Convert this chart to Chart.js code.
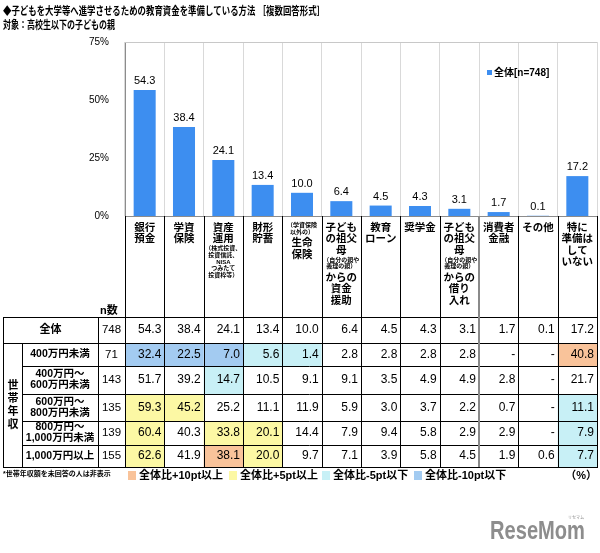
<!DOCTYPE html>
<html lang="ja">
<head>
<meta charset="utf-8">
<script src="https://cdn.jsdelivr.net/npm/chart.js@4.4.1/dist/chart.umd.min.js"></script>
<style>
  html, body { margin: 0; padding: 0; background: #fff; }
  #wrap { position: relative; width: 600px; height: 553px; }
</style>
</head>
<body>
<div id="wrap"><canvas id="grafico"></canvas></div>
<script>
// カテゴリ（選択肢）
const categories = ['銀行預金', '学資保険', '資産運用', '財形貯蓄', '生命保険', '子どもの祖父母からの資金援助',
  '教育ローン', '奨学金', '子どもの祖父母からの借り入れ', '消費者金融', 'その他', '特に準備はしていない'];

// 表の見出し（L = 大きい文字, S = 小さい注記）
const headers = [
  [['銀行', 'L'], ['預金', 'L']],
  [['学資', 'L'], ['保険', 'L']],
  [['資産', 'L'], ['運用', 'L'], ['（株式投資、', 'S'], ['投資信託、', 'S'], ['NISA', 'S'], ['つみたて', 'S'], ['投資枠等）', 'S']],
  [['財形', 'L'], ['貯蓄', 'L']],
  [['（学資保険', 'S'], ['以外の）', 'S'], ['生命', 'L'], ['保険', 'L']],
  [['子ども', 'L'], ['の祖父', 'L'], ['母', 'L'], ['（自分の親や', 'S'], ['義理の親）', 'S'], ['からの', 'L'], ['資金', 'L'], ['援助', 'L']],
  [['教育', 'L'], ['ローン', 'L']],
  [['奨学金', 'L']],
  [['子ども', 'L'], ['の祖父', 'L'], ['母', 'L'], ['（自分の親や', 'S'], ['義理の親）', 'S'], ['からの', 'L'], ['借り', 'L'], ['入れ', 'L']],
  [['消費者', 'L'], ['金融', 'L']],
  [['その他', 'L']],
  [['特に', 'L'], ['準備は', 'L'], ['して', 'L'], ['いない', 'L']]
];

// 全体
const totalLabel = '全体[n=748]';
const totalN = 748;
const totalValues = [54.3, 38.4, 24.1, 13.4, 10.0, 6.4, 4.5, 4.3, 3.1, 1.7, 0.1, 17.2];

// 世帯年収別（null = 「-」）
const incomeLabels = [['400万円未満'], ['400万円～', '600万円未満'], ['600万円～', '800万円未満'], ['800万円～', '1,000万円未満'], ['1,000万円以上']];
const incomeN = [71, 143, 135, 139, 155];
const under400 = [32.4, 22.5, 7.0, 5.6, 1.4, 2.8, 2.8, 2.8, 2.8, null, null, 40.8];
const from400to600 = [51.7, 39.2, 14.7, 10.5, 9.1, 9.1, 3.5, 4.9, 4.9, 2.8, null, 21.7];
const from600to800 = [59.3, 45.2, 25.2, 11.1, 11.9, 5.9, 3.0, 3.7, 2.2, 0.7, null, 11.1];
const from800to1000 = [60.4, 40.3, 33.8, 20.1, 14.4, 7.9, 9.4, 5.8, 2.9, 2.9, null, 7.9];
const over1000 = [62.6, 41.9, 38.1, 20.0, 9.7, 7.1, 3.9, 5.8, 4.5, 1.9, 0.6, 7.7];
const incomeRows = [under400, from400to600, from600to800, from800to1000, over1000];

// 軸の目盛り
const yTicks = [0, 25, 50, 75];

const JP = '"Liberation Sans", "Noto Sans CJK JP", sans-serif';
const NUM = '"Liberation Sans", Arial, sans-serif';
const BAR = '#3d8ef0';
const C_P10 = '#f9c39a', C_P5 = '#fcf8a4', C_M5 = '#c8f0f6', C_M10 = '#a3cbf1';

function cellColor(v, base) {
  if (v === null) return null;
  const d = Math.round((v - base) * 10) / 10;
  if (d >= 10) return C_P10;
  if (d >= 5) return C_P5;
  if (d <= -10) return C_M10;
  if (d <= -5) return C_M5;
  return null;
}

function fmt(v) { return v === null ? '-' : v.toFixed(1); }

function hLine(ctx, x1, x2, y) {
  ctx.beginPath(); ctx.moveTo(x1, Math.round(y) + 0.5); ctx.lineTo(x2, Math.round(y) + 0.5); ctx.stroke();
}
function vLine(ctx, x, y1, y2) {
  ctx.beginPath(); ctx.moveTo(Math.round(x) + 0.5, y1); ctx.lineTo(Math.round(x) + 0.5, y2); ctx.stroke();
}

// グラフ以外（タイトル・数値・表・凡例）を描く
const tablePlugin = {
  id: 'tablePlugin',
  afterDraw(chart) {
    const ctx = chart.ctx;
    const xs = chart.scales.x;
    const area = chart.chartArea;
    const colW = xs.width / categories.length;
    const colLeft = i => xs.getPixelForValue(i) - colW / 2;
    ctx.save();

    // タイトル
    ctx.fillStyle = '#000';
    ctx.textBaseline = 'middle';
    ctx.textAlign = 'left';
    ctx.font = 'bold 11px ' + JP;
    ctx.fillText('◆子どもを大学等へ進学させるための教育資金を準備している方法 ［複数回答形式］', 3, 12, 322);
    ctx.fillText('対象：高校生以下の子どもの親', 3, 26, 112);

    // グラフ上枠
    ctx.strokeStyle = '#c8c8c8';
    ctx.lineWidth = 1;
    hLine(ctx, area.left, area.right, area.top);

    // 棒の数値
    const meta = chart.getDatasetMeta(0);
    ctx.font = '11px ' + NUM;
    ctx.textAlign = 'center';
    ctx.textBaseline = 'alphabetic';
    meta.data.forEach((bar, i) => {
      ctx.fillText(totalValues[i].toFixed(1), bar.x, bar.y - 6);
    });

    // 凡例（グラフ内）
    ctx.fillStyle = BAR;
    ctx.fillRect(487, 70, 5, 5);
    ctx.fillStyle = '#000';
    ctx.font = 'bold 10px ' + JP;
    ctx.textAlign = 'left';
    ctx.textBaseline = 'middle';
    ctx.fillText(totalLabel, 494, 73);

    // 表
    const rowsY = [317, 343, 366, 394, 421, 445, 467];
    const xL = 3, xG = 22, xN = 98;
    const top = area.bottom, bottom = rowsY[rowsY.length - 1];
    const nX = (xN + area.left) / 2;

    // セル背景
    incomeRows.forEach((row, r) => {
      row.forEach((v, c) => {
        const col = cellColor(v, totalValues[c]);
        if (col) {
          ctx.fillStyle = col;
          ctx.fillRect(colLeft(c), rowsY[r + 1], colW, rowsY[r + 2] - rowsY[r + 1]);
        }
      });
    });

    // 見出し
    ctx.fillStyle = '#000';
    ctx.textAlign = 'center';
    ctx.textBaseline = 'middle';
    headers.forEach((lines, c) => {
      const cx = colLeft(c) + colW / 2;
      let y = 222;
      let prev = 'L';
      lines.forEach(([t, s]) => {
        if (s === 'L') {
          if (prev === 'S') y += 2;
          ctx.font = 'bold 10.5px ' + JP;
          ctx.fillText(t, cx, y + 6, colW - 2);
          y += 11.5;
        } else {
          ctx.font = 'bold 6px ' + JP;
          ctx.fillText(t, cx, y + 3.5, colW - 2);
          y += 6.7;
        }
        prev = s;
      });
    });
    ctx.font = 'bold 11px ' + JP;
    ctx.textAlign = 'left';
    ctx.fillText('n数', 100, 311);

    // 全体の行
    const mid = r => (rowsY[r] + rowsY[r + 1]) / 2;
    ctx.textAlign = 'center';
    ctx.fillText('全体', (xL + xN) / 2, mid(0));
    ctx.font = '11.5px ' + NUM;
    ctx.fillText(String(totalN), nX, mid(0), 21);
    ctx.font = '12px ' + NUM;
    ctx.textAlign = 'right';
    totalValues.forEach((v, c) => ctx.fillText(fmt(v), colLeft(c) + colW - 3, mid(0)));

    // 年収別の行
    incomeRows.forEach((row, r) => {
      const y = mid(r + 1);
      ctx.font = 'bold 10.5px ' + JP;
      ctx.textAlign = 'center';
      const lab = incomeLabels[r];
      const lx = (xG + xN) / 2;
      if (lab.length === 1) {
        ctx.fillText(lab[0], lx, y, 74);
      } else {
        ctx.fillText(lab[0], lx, y - 5.5, 74);
        ctx.fillText(lab[1], lx, y + 5.5, 74);
      }
      ctx.font = '11.5px ' + NUM;
      ctx.fillText(String(incomeN[r]), nX, y, 21);
      ctx.font = '12px ' + NUM;
      ctx.textAlign = 'right';
      row.forEach((v, c) => ctx.fillText(fmt(v), colLeft(c) + colW - 3, y));
    });

    // 世帯年収（縦書き）
    ctx.font = 'bold 11px ' + JP;
    ctx.textAlign = 'center';
    const gMid = (rowsY[1] + bottom) / 2;
    '世帯年収'.split('').forEach((ch, k) => ctx.fillText(ch, (xL + xG) / 2 + 0.5, gMid + (k - 1.5) * 13));

    // 罫線
    ctx.strokeStyle = '#000';
    ctx.lineWidth = 1;
    hLine(ctx, xL, area.right, rowsY[0]);
    hLine(ctx, xL, area.right, rowsY[1]);
    for (let r = 2; r < rowsY.length - 1; r++) hLine(ctx, xG, area.right, rowsY[r]);
    hLine(ctx, xL, area.right, bottom);
    vLine(ctx, xL, rowsY[0], bottom + 1);
    vLine(ctx, xG, rowsY[1], bottom);
    vLine(ctx, xN, rowsY[0], bottom);
    for (let c = 0; c <= categories.length; c++) {
      const x = c === categories.length ? area.right : colLeft(c);
      if (c === 9) {
        ctx.strokeStyle = '#8a8a8a';
        ctx.lineWidth = 2;
        ctx.beginPath(); ctx.moveTo(x, top); ctx.lineTo(x, bottom); ctx.stroke();
        ctx.strokeStyle = '#000';
        ctx.lineWidth = 1;
      } else {
        vLine(ctx, x, top, bottom + 1);
      }
    }

    // 注記
    ctx.fillStyle = '#000';
    ctx.font = 'bold 7px ' + JP;
    ctx.textAlign = 'left';
    ctx.fillText('*世帯年収額を未回答の人は非表示', 3, 474, 108);

    // 色の凡例
    const keys = [[C_P10, '全体比+10pt以上', 128], [C_P5, '全体比+5pt以上', 229], [C_M5, '全体比-5pt以下', 322], [C_M10, '全体比-10pt以下', 414]];
    ctx.font = 'bold 11px ' + JP;
    keys.forEach(([col, t, x]) => {
      ctx.fillStyle = col;
      ctx.fillRect(x, 471, 8, 9);
      ctx.fillStyle = '#000';
      ctx.fillText(t, x + 11, 476);
    });
    ctx.textAlign = 'right';
    ctx.fillText('（%）', 597, 476);

    // ロゴ
    ctx.fillStyle = '#8d8d8d';
    ctx.font = 'bold 26px "Liberation Sans Narrow", "Liberation Sans", sans-serif';
    ctx.textAlign = 'left';
    ctx.textBaseline = 'alphabetic';
    ctx.fillText('ReseMom', 490, 539, 95);
    ctx.font = '4px ' + JP;
    ctx.fillText('リセマム', 568, 519);

    ctx.restore();
  }
};

new Chart(document.getElementById('grafico'), {
  type: 'bar',
  data: {
    labels: categories,
    datasets: [{
      label: totalLabel,
      data: totalValues,
      backgroundColor: BAR,
      barPercentage: 0.56,
      categoryPercentage: 1.0
    }]
  },
  options: {
    responsive: true,
    maintainAspectRatio: false,
    animation: false,
    layout: { padding: { top: 42, right: 3, left: 0, bottom: 0 } },
    plugins: { legend: { display: false }, tooltip: { enabled: false } },
    scales: {
      x: {
        grid: { color: '#d9d9d9', drawTicks: false, offset: true },
        border: { color: '#8c8c8c' },
        ticks: { display: false },
        afterFit: s => { s.height = 337; }
      },
      y: {
        min: 0,
        max: 75,
        afterBuildTicks: s => { s.ticks = yTicks.map(v => ({ value: v })); },
        ticks: { callback: v => v + '%', font: { size: 10, family: NUM }, color: '#000', padding: 8 },
        grid: { display: false },
        border: { color: '#8c8c8c' },
        afterFit: s => { s.width = 125; }
      }
    }
  },
  plugins: [tablePlugin]
});
</script>
</body>
</html>
